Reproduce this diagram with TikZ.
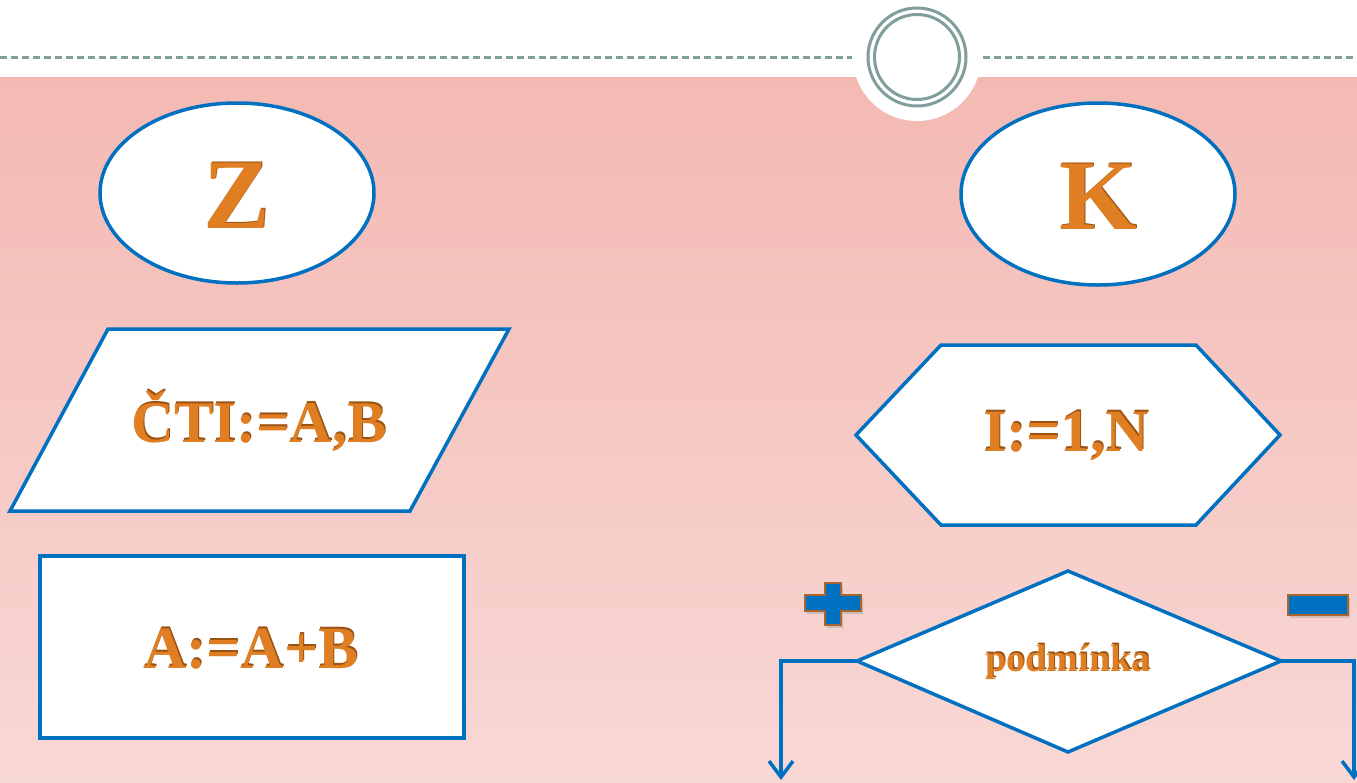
\documentclass[tikz,border=0pt]{standalone}
\usepackage{fontspec}
\setmainfont{Liberation Serif}
\usetikzlibrary{shapes.geometric,arrows.meta,calc}
\definecolor{fblue}{HTML}{0070C0}
\definecolor{ftext}{HTML}{DF7E22}
\definecolor{fshadow}{HTML}{9A5212}
\definecolor{pinktop}{HTML}{F4B9B3}
\definecolor{pinkbot}{HTML}{F8D8D5}
\definecolor{ringcol}{HTML}{7F9E9C}
\definecolor{signedge}{HTML}{A8662E}
\tikzset{
  shapeline/.style={draw=fblue, line width=3.5pt, fill=white, line join=miter},
  conn/.style={draw=fblue, line width=3.5pt},
  lbl/.style={font=\bfseries, text=ftext},
  sign/.style={fill=fblue, draw=signedge, line width=1.2pt}
}
\newcommand{\shtext}[4]{% name, pos, size, text
  \node[lbl, text=fshadow, font=\fontsize{#3}{#3}\selectfont\bfseries] at ($(#2)+(1,-1.5)$) {#4};
  \node[lbl, font=\fontsize{#3}{#3}\selectfont\bfseries] (#1) at (#2) {#4};
}
\begin{document}
\begin{tikzpicture}[x=1pt,y=-1pt]
\useasboundingbox (0,0) rectangle (1357,782);
% background
\fill[white] (0,0) rectangle (1357,782);
\shade[top color=pinktop, bottom color=pinkbot] (0,77) rectangle (1357,782);
% top ornament
\draw[ringcol, line width=3pt, dash pattern=on 7pt off 4pt] (0,57) -- (852,57);
\draw[ringcol, line width=3pt, dash pattern=on 7pt off 4pt] (983,57) -- (1357,57);
\fill[white] (917,57) circle (64);
\draw[ringcol, line width=3pt] (917,57) circle (49);
\draw[ringcol, line width=3pt] (917,57) circle (42.5);
% shapes
\draw[shapeline] (237,193) ellipse (137 and 90);
\draw[shapeline] (1098,194) ellipse (137 and 91);
\draw[shapeline] (108,329) -- (509,329) -- (410,511) -- (10,511) -- cycle;
\draw[shapeline] (40,556) rectangle (464,738);
\draw[shapeline] (856,435) -- (941,345) -- (1196,345) -- (1280,435) -- (1196,525) -- (941,525) -- cycle;
\draw[shapeline] (1068,571) -- (1281,661) -- (1068,752) -- (857,661) -- cycle;
% coordinates
\coordinate (dl) at (857,661);
\coordinate (dr) at (1281,661);
\coordinate (el) at (781,780);
\coordinate (er) at (1354,780);
\draw[conn, -{Straight Barb[length=16pt,width=24pt,line width=3.5pt]}] (dl) -- (781,661) -- (el);
\draw[conn, -{Straight Barb[length=16pt,width=24pt,line width=3.5pt]}] (dr) -- (1354,661) -- (er);
% texts
\shtext{tz}{237,196}{100}{Z}
\shtext{tk}{1098,197}{100}{K}
\shtext{tcti}{259,421}{59}{ČTI:=A,B}
\shtext{tadd}{251,649}{60}{A:=A+B}
\shtext{tloop}{1066,436}{60}{I:=1,N}
\shtext{tcond}{1068,662}{38}{podmínka}
% plus and minus signs
\fill[black!35, opacity=0.5] (805+2,595+3) -- (825+2,595+3) -- (825+2,583+3) -- (841+2,583+3) -- (841+2,595+3) -- (861+2,595+3) -- (861+2,611+3) -- (841+2,611+3) -- (841+2,625+3) -- (825+2,625+3) -- (825+2,611+3) -- (805+2,611+3) -- cycle;
\draw[sign] (805,595) -- (825,595) -- (825,583) -- (841,583) -- (841,595) -- (861,595) -- (861,611) -- (841,611) -- (841,625) -- (825,625) -- (825,611) -- (805,611) -- cycle;
\fill[black!35, opacity=0.5] (1290,598) rectangle (1350,618);
\draw[sign] (1288,595) rectangle (1348,615);
\end{tikzpicture}
\end{document}
